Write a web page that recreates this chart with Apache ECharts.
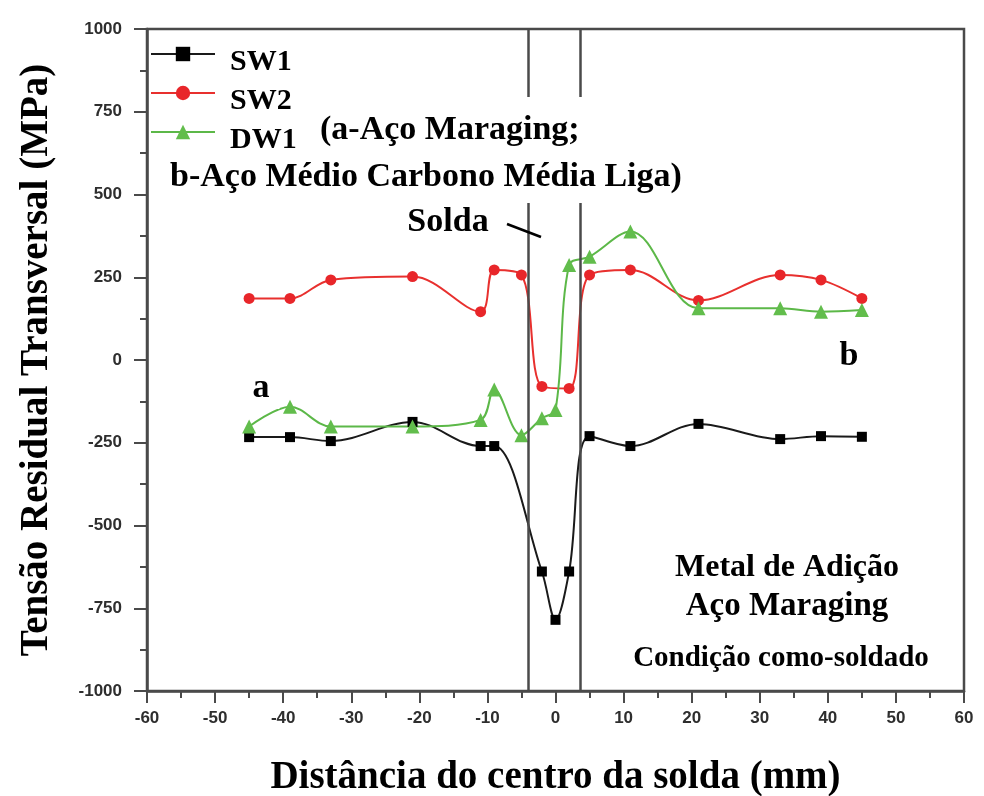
<!DOCTYPE html>
<html>
<head>
<meta charset="utf-8">
<script src="https://cdn.jsdelivr.net/npm/echarts@6/dist/echarts.min.js"></script>
<style>
html,body{margin:0;padding:0;background:#fff;}
#chart{width:984px;height:796px;}
</style>
</head>
<body>
<div id="chart"></div>
<script>
// ---- data ----
const seriesNames = ['SW1', 'SW2', 'DW1'];
const sw1X = [-45, -39, -33, -21, -11, -9, -2, 0, 2, 5, 11, 21, 33, 39, 45];
const sw1Y = [-233, -233, -245, -187, -260, -260, -639, -785, -639, -230, -260, -193, -239, -230, -232];
const sw2X = [-45, -39, -33, -21, -11, -9, -5, -2, 2, 5, 11, 21, 33, 39, 45];
const sw2Y = [186, 186, 242, 252, 146, 272, 257, -80, -86, 257, 272, 180, 257, 242, 186];
const dw1X = [-45, -39, -33, -21, -11, -9, -5, -2, 0, 2, 5, 11, 21, 33, 39, 45];
const dw1Y = [-201, -141, -201, -201, -181, -89, -227, -176, -151, 287, 312, 388, 156, 156, 146, 151];
const weldLines = [-4, 3.6];
const xTicks = { min: -60, max: 60, interval: 10 };
const yTicks = { min: -1000, max: 1000, interval: 250 };

const pairs = (xs, ys) => xs.map((x, i) => [x, ys[i]]);
const serif = 'Liberation Serif, Times New Roman, serif';
const axisColor = '#4a4a4a';

const chart = echarts.init(document.getElementById('chart'), null, { renderer: 'canvas' });

const textEl = (text, x, y, size, align, bg, pad) => ({
  type: 'text', z: 110,
  style: Object.assign({
    text: text, x: x, y: y, fill: '#000',
    font: 'bold ' + size + 'px ' + serif,
    align: align || 'left', verticalAlign: 'middle'
  }, bg ? { backgroundColor: bg, padding: pad } : {})
});

const option = {
  backgroundColor: '#fff',
  animation: false,
  grid: {
    left: 147, right: 20, top: 29, bottom: 105,
    containLabel: false, outerBoundsMode: 'none',
    show: true, borderColor: axisColor, borderWidth: 2.5, backgroundColor: 'transparent'
  },
  legend: {
    orient: 'vertical', left: 150, top: 31, padding: [0, 14, 6, 0],
    itemWidth: 64, itemHeight: 18, itemGap: -7,
    backgroundColor: '#fff',
    data: seriesNames,
    formatter: name => '{t|' + name + '}',
    textStyle: {
      fontFamily: serif, fontWeight: 'bold', fontSize: 30, color: '#000',
      rich: { t: { fontFamily: serif, fontWeight: 'bold', fontSize: 30, color: '#000', lineHeight: 30, padding: [16, 0, 0, 10] } }
    }
  },
  xAxis: {
    type: 'value', min: xTicks.min, max: xTicks.max, interval: xTicks.interval,
    axisLine: { show: true, onZero: false, lineStyle: { color: axisColor, width: 2.5 } },
    axisTick: { show: true, inside: false, length: 12, lineStyle: { color: axisColor, width: 2 } },
    minorTick: { show: true, splitNumber: 2, length: 7, lineStyle: { color: axisColor, width: 2 } },
    splitLine: { show: false },
    axisLabel: { color: '#2e2e2e', fontFamily: 'Liberation Sans, Arial, sans-serif', fontWeight: 'bold', fontSize: 17, margin: 19, formatter: v => String(v) },
    name: 'Distância do centro da solda (mm)', nameLocation: 'middle', nameGap: 67,
    nameTextStyle: { fontFamily: serif, fontWeight: 'bold', fontSize: 39, color: '#000' }
  },
  yAxis: {
    type: 'value', min: yTicks.min, max: yTicks.max, interval: yTicks.interval,
    axisLine: { show: true, onZero: false, lineStyle: { color: axisColor, width: 2.5 } },
    axisTick: { show: true, inside: false, length: 13, lineStyle: { color: axisColor, width: 2 } },
    minorTick: { show: true, splitNumber: 2, length: 7, lineStyle: { color: axisColor, width: 2 } },
    splitLine: { show: false },
    axisLabel: { color: '#2e2e2e', fontFamily: 'Liberation Sans, Arial, sans-serif', fontWeight: 'bold', fontSize: 17, margin: 25, formatter: v => String(v) },
    name: 'Tensão Residual Transversal (MPa)', nameLocation: 'middle', nameGap: 91, nameRotate: 90,
    nameTextStyle: { fontFamily: serif, fontWeight: 'bold', fontSize: 39, color: '#000' }
  },
  series: [
    {
      name: 'SW1', type: 'line', smooth: 0.35, data: pairs(sw1X, sw1Y),
      symbol: 'rect', symbolSize: 10,
      lineStyle: { color: '#1a1a1a', width: 2 }, itemStyle: { color: '#000' },
      markLine: {
        silent: true, symbol: 'none', label: { show: false },
        lineStyle: { color: axisColor, width: 2.5, type: 'solid' },
        data: weldLines.map(v => ({ xAxis: v }))
      }
    },
    {
      name: 'SW2', type: 'line', smooth: 0.35, data: pairs(sw2X, sw2Y),
      symbol: 'circle', symbolSize: 11,
      lineStyle: { color: '#e8302e', width: 2 }, itemStyle: { color: '#e8262a' }
    },
    {
      name: 'DW1', type: 'line', smooth: 0.35, data: pairs(dw1X, dw1Y),
      symbol: 'triangle', symbolSize: 14,
      lineStyle: { color: '#5cb848', width: 2 }, itemStyle: { color: '#62bd4c' }
    }
  ],
  graphic: [
    { type: 'rect', z: 100, shape: { x: 312, y: 97, width: 400, height: 106 }, style: { fill: '#fff' } },
    { type: 'rect', z: 100, shape: { x: 160, y: 152, width: 160, height: 51 }, style: { fill: '#fff' } },
    textEl('(a-Aço Maraging;', 320, 130, 34, 'left'),
    textEl('b-Aço Médio Carbono Média Liga)', 170, 177, 34, 'left'),
    textEl('Solda', 448, 222, 34, 'center'),
    { type: 'line', z: 110, shape: { x1: 507, y1: 224, x2: 541, y2: 237 }, style: { stroke: '#000', lineWidth: 2.5 } },
    textEl('a', 261, 388, 34, 'center', '#fff', [4, 10, 4, 10]),
    textEl('b', 849, 356, 34, 'center', '#fff', [6, 14, 6, 14]),
    textEl('Metal de Adição', 787, 568, 32, 'center'),
    textEl('Aço Maraging', 787, 606, 33, 'center'),
    textEl('Condição como-soldado', 781, 659, 29, 'center')
  ]
};
chart.setOption(option);
</script>
</body>
</html>
